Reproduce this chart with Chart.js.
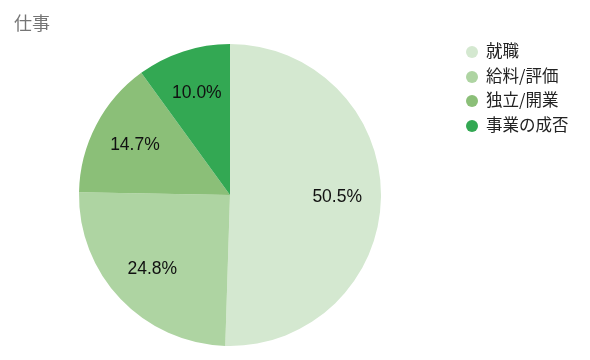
<!DOCTYPE html>
<html>
<head>
<meta charset="utf-8">
<script src="https://cdn.jsdelivr.net/npm/chart.js@4/dist/chart.umd.min.js"></script>
<style>
html,body{margin:0;padding:0;background:#fff;}
#wrap{position:relative;width:590px;height:360px;}
#title{position:absolute;left:14px;top:9px;font-family:"Noto Sans CJK JP","Noto Sans",sans-serif;font-size:18px;color:#757575;}
#legend{position:absolute;left:466px;top:38px;font-family:"Noto Sans CJK JP","Noto Sans",sans-serif;font-size:16.5px;color:#222;}
#legend div{height:24.6px;line-height:24.6px;white-space:nowrap;}
#legend span.dot{display:inline-block;width:12px;height:12px;border-radius:50%;margin-right:8px;vertical-align:-1px;}
</style>
</head>
<body>
<div id="wrap">
<canvas id="c" width="590" height="360"></canvas>
<div id="title">仕事</div>
<div id="legend"></div>
</div>
<script>
const chartTitle = "仕事";
const categories = ["就職", "給料/評価", "独立/開業", "事業の成否"];
const values = [50.5, 24.8, 14.7, 10.0];
const colors = ["#d4e8d0", "#aed4a2", "#8bbf78", "#33a853"];

document.getElementById('title').textContent = chartTitle;
const lg = document.getElementById('legend');
categories.forEach((c, i) => {
  const d = document.createElement('div');
  const s = document.createElement('span');
  s.className = 'dot';
  s.style.background = colors[i];
  d.appendChild(s);
  d.appendChild(document.createTextNode(c));
  lg.appendChild(d);
});

const labelPlugin = {
  id: 'sliceLabels',
  afterDatasetsDraw(chart) {
    const ctx = chart.ctx;
    const meta = chart.getDatasetMeta(0);
    const total = values.reduce((a, b) => a + b, 0);
    ctx.save();
    ctx.font = '17.5px "Liberation Sans", Arial, sans-serif';
    ctx.fillStyle = '#111';
    ctx.textAlign = 'center';
    ctx.textBaseline = 'middle';
    meta.data.forEach((arc, i) => {
      const p = arc.getProps(['x', 'y', 'startAngle', 'endAngle', 'outerRadius'], true);
      const mid = (p.startAngle + p.endAngle) / 2;
      const r = p.outerRadius * 0.71;
      const x = p.x + Math.cos(mid) * r;
      const y = p.y + Math.sin(mid) * r;
      ctx.fillText((values[i] / total * 100).toFixed(1) + '%', x, y);
    });
    ctx.restore();
  }
};

new Chart(document.getElementById('c'), {
  type: 'pie',
  data: {
    labels: categories,
    datasets: [{ data: values, backgroundColor: colors, borderWidth: 0 }]
  },
  options: {
    responsive: false,
    animation: false,
    layout: { padding: { left: 79, right: 209, top: 44, bottom: 14 } },
    plugins: { legend: { display: false }, tooltip: { enabled: false } }
  },
  plugins: [labelPlugin]
});
</script>
</body>
</html>
